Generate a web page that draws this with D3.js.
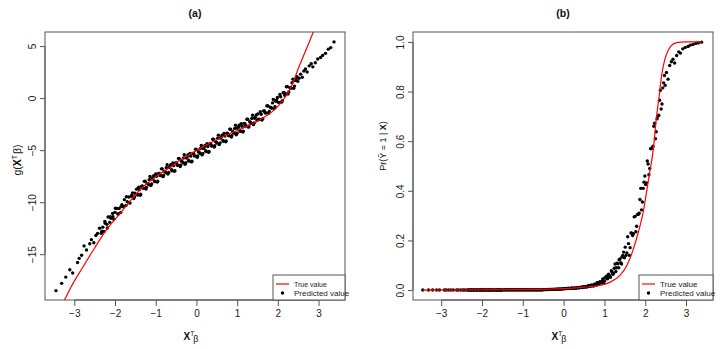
<!DOCTYPE html>
<html>
<head>
<meta charset="utf-8">
<script src="https://cdn.jsdelivr.net/npm/d3@7"></script>
<style>
  body { margin: 0; background: #fff; }
  svg { display: block; font-family: "Liberation Sans", Arial, sans-serif; }
</style>
</head>
<body>
<div id="chart"></div>
<script>
// x^T beta for each observation (shared by both panels), first batch
const xs = [
  -3.45, -3.31, -3.21, -3.11, -3.04, -2.92, -2.88, -2.82, -2.76, -2.70, -2.62, -2.58, -2.52, -2.47, -2.43,
  -2.38, -2.34, -2.30, -2.27, -2.24, -2.20, -2.17, -2.13, -2.10, -2.06, -2.03, -2.00, -1.96, -1.93, -1.90,
  -1.86, -1.83, -1.80, -1.77, -1.73, -1.70, -1.66, -1.63, -1.60, -1.57, -1.54, -1.51,
  -1.47, -1.44, -1.40, -1.37, -1.33, -1.30, -1.26, -1.23, -1.19, -1.16, -1.12, -1.09,
  -1.05, -1.02, -0.98, -0.95, -0.91, -0.88, -0.84, -0.81, -0.77, -0.74, -0.70, -0.67,
  -0.63, -0.60, -0.56, -0.53, -0.49, -0.46, -0.42, -0.39, -0.35, -0.32, -0.28, -0.25,
  -0.21, -0.18, -0.14, -0.11, -0.07, -0.04, 0.00, 0.03, 0.07, 0.10, 0.14, 0.17,
  0.21, 0.24, 0.28, 0.31, 0.35, 0.38, 0.42, 0.45, 0.49, 0.52, 0.56, 0.59,
  0.63, 0.66, 0.70, 0.73, 0.77, 0.80, 0.84, 0.87, 0.91, 0.94, 0.98, 1.01,
  1.05, 1.08, 1.12, 1.15, 1.19, 1.22, 1.26, 1.29, 1.33, 1.36, 1.40, 1.43, 1.47,
  1.51, 1.55, 1.59, 1.63, 1.67, 1.71, 1.75, 1.79, 1.83, 1.87, 1.91, 1.95, 1.99,
  2.03, 2.07, 2.11, 2.15, 2.19, 2.23, 2.27, 2.31, 2.35, 2.39, 2.43, 2.47,
  2.52, 2.56, 2.60, 2.64, 2.68, 2.72, 2.77, 2.82, 2.86, 2.92, 2.98, 3.05, 3.10, 3.17, 3.24, 3.30, 3.38
];

// panel (a): predicted g(x^T beta)
const gPred = [
  -18.5, -17.8, -17.2, -16.5, -16.8, -15.8, -15.4, -15.1, -14.2, -14.6, -14.0, -13.6, -13.9, -13.2, -13.0,
  -12.51, -12.98, -12.4, -12.81, -12.02, -12.13, -11.43, -11.94, -11.55, -11.08, -11.65, -10.98, -10.61, -11.13, -10.6,
  -11.0, -10.24, -10.43, -9.76, -10.31, -9.95, -9.5, -10.09, -9.43, -9.11, -9.65, -9.14,
  -8.75, -9.31, -8.78, -9.23, -8.45, -8.65, -7.98, -8.59, -8.22, -7.83, -8.41, -7.77,
  -7.46, -8.03, -7.52, -7.99, -7.23, -7.45, -6.8, -7.43, -7.08, -6.7, -7.3, -6.68,
  -6.39, -6.98, -6.49, -6.97, -6.23, -6.46, -5.82, -6.45, -6.11, -5.75, -6.36, -5.75,
  -5.47, -6.06, -5.58, -6.07, -5.33, -5.57, -4.93, -5.56, -5.22, -4.85, -5.46, -4.84,
  -4.55, -5.14, -4.65, -5.13, -4.38, -4.6, -3.95, -4.58, -4.23, -3.86, -4.47, -3.85,
  -3.56, -4.14, -3.65, -4.13, -3.39, -3.63, -2.99, -3.62, -3.28, -2.91, -3.52, -2.9,
  -2.61, -3.2, -2.71, -3.19, -2.45, -2.68, -2.04, -2.67, -2.33, -1.95, -2.55, -1.93, -1.63,
  -1.52, -2.06, -1.55, -1.99, -1.23, -1.42, -0.73, -1.29, -0.9, -0.46, -1.01, -0.3, 0.06,
  -0.43, 0.13, -0.26, 0.55, 0.41, 1.12, 0.58, 0.99, 1.47, 0.95, 1.68, 2.06,
  1.9, 2.3, 2.0, 2.6, 2.8, 2.5, 3.1, 3.3, 3.0, 3.4, 3.75, 3.9, 4.1, 4.3, 4.7, 4.85, 5.4
];

// panel (b): predicted Pr(Y~ = 1 | X)
const prPred = [
  0, 0, 0, 0, 0, 0, 0, 0, 0, 0, 0, 0, 0, 0, 0,
  0, 0, 0, 0, 0, 0, 0, 0, 0, 0, 0, 0, 0, 0, 0,
  0, 0, 0, 0, 0, 0, 0, 0, 0, 0, 0, 0,
  0.001, 0.001, 0.001, 0.001, 0.001, 0.001, 0.001, 0.001, 0.001, 0.001, 0.001, 0.001,
  0.001, 0.001, 0.001, 0.001, 0.001, 0.001, 0.001, 0.001, 0.001, 0.001, 0.001, 0.001,
  0.001, 0.001, 0.001, 0.001, 0.002, 0.002, 0.002, 0.002, 0.003, 0.003, 0.003, 0.003,
  0.003, 0.004, 0.004, 0.004, 0.004, 0.005, 0.006, 0.005, 0.006, 0.007, 0.006, 0.007,
  0.008, 0.007, 0.008, 0.007, 0.010, 0.009, 0.012, 0.010, 0.012, 0.014, 0.012, 0.015,
  0.018, 0.015, 0.019, 0.016, 0.023, 0.021, 0.030, 0.024, 0.029, 0.036, 0.028, 0.049,
  0.056, 0.048, 0.059, 0.053, 0.072, 0.068, 0.105, 0.090, 0.106, 0.122, 0.110, 0.133, 0.153,
  0.173, 0.150, 0.187, 0.171, 0.229, 0.227, 0.297, 0.257, 0.305, 0.365, 0.323, 0.410, 0.460,
  0.432, 0.508, 0.490, 0.570, 0.580, 0.672, 0.638, 0.700, 0.765, 0.730, 0.815, 0.865,
  0.877, 0.850, 0.905, 0.920, 0.930, 0.915, 0.945, 0.960, 0.955, 0.972, 0.978, 0.982, 0.987, 0.990, 0.994, 0.996, 0.999
];

// second batch of observations, in the dense middle of the cloud
const xs2 = [
  -2.32, -2.25, -2.19, -2.12, -2.05, -1.99, -1.92, -1.85, -1.79, -1.72, -1.65, -1.59, -1.52,
  -1.45, -1.42, -1.38, -1.35, -1.31, -1.28, -1.24, -1.21, -1.17, -1.14, -1.10, -1.07,
  -1.03, -1.00, -0.96, -0.93, -0.89, -0.86, -0.82, -0.79, -0.75, -0.72, -0.68, -0.65,
  -0.61, -0.58, -0.54, -0.51, -0.47, -0.44, -0.40, -0.37, -0.33, -0.30, -0.26, -0.23,
  -0.19, -0.16, -0.12, -0.09, -0.05, -0.02, 0.02, 0.05, 0.09, 0.12, 0.16, 0.19,
  0.23, 0.26, 0.30, 0.33, 0.37, 0.40, 0.44, 0.47, 0.51, 0.54, 0.58, 0.61,
  0.65, 0.68, 0.72, 0.75, 0.79, 0.82, 0.86, 0.89, 0.93, 0.96, 1.00, 1.03,
  1.07, 1.10, 1.14, 1.17, 1.21, 1.24, 1.28, 1.31, 1.35, 1.38, 1.42, 1.45, 1.49,
  1.53, 1.57, 1.61, 1.65, 1.69, 1.73, 1.77, 1.81, 1.85, 1.89, 1.93, 1.97, 2.01,
  2.05, 2.09, 2.13, 2.17, 2.21, 2.25, 2.29, 2.33, 2.37, 2.41, 2.45, 2.49
];

const gPred2 = [
  -12.79, -11.86, -12.48, -11.4, -11.39, -10.58, -11.14, -10.41, -10.44, -9.48, -10.06, -9.34, -9.48,
  -9.25, -8.56, -9.33, -8.48, -8.65, -8.0, -8.73, -8.19, -8.32, -7.53, -8.26, -7.67,
  -7.96, -7.28, -8.07, -7.24, -7.43, -6.8, -7.55, -7.03, -7.18, -6.4, -7.15, -6.58,
  -6.89, -6.23, -7.04, -6.22, -6.43, -5.81, -6.57, -6.05, -6.21, -5.45, -6.21, -5.65,
  -5.97, -5.31, -6.13, -5.32, -5.53, -4.92, -5.68, -5.16, -5.32, -4.55, -5.31, -4.74,
  -5.05, -4.39, -5.2, -4.38, -4.58, -3.95, -4.7, -4.18, -4.33, -3.56, -4.32, -3.75,
  -4.06, -3.39, -4.2, -3.38, -3.59, -2.98, -3.74, -3.22, -3.38, -2.61, -3.37, -2.8,
  -3.11, -2.45, -3.26, -2.44, -2.65, -2.03, -2.79, -2.27, -2.43, -1.65, -2.4, -1.83, -2.13,
  -2.02, -1.31, -2.1, -1.24, -1.43, -0.75, -1.46, -0.87, -0.98, -0.14, -0.83, -0.17, -0.41,
  0.35, -0.39, 0.52, 0.28, 1.09, 0.4, 1.01, 0.94, 1.82, 1.15, 1.83, 1.61
];

const prPred2 = [
  0, 0, 0, 0, 0, 0, 0, 0, 0, 0, 0, 0, 0,
  0.001, 0.001, 0.001, 0.001, 0.001, 0.001, 0.001, 0.001, 0.001, 0.001, 0.001, 0.001,
  0.001, 0.001, 0.001, 0.001, 0.001, 0.001, 0.001, 0.001, 0.001, 0.001, 0.001, 0.001,
  0.001, 0.001, 0.001, 0.001, 0.002, 0.002, 0.003, 0.002, 0.003, 0.003, 0.003, 0.004,
  0.003, 0.004, 0.004, 0.005, 0.004, 0.005, 0.006, 0.007, 0.006, 0.008, 0.007, 0.009,
  0.007, 0.009, 0.008, 0.011, 0.009, 0.011, 0.010, 0.014, 0.011, 0.015, 0.013, 0.019,
  0.015, 0.021, 0.017, 0.024, 0.020, 0.030, 0.024, 0.034, 0.030, 0.045, 0.036, 0.050,
  0.045, 0.064, 0.052, 0.078, 0.064, 0.088, 0.075, 0.108, 0.090, 0.125, 0.105, 0.140, 0.130,
  0.140, 0.215, 0.140, 0.230, 0.220, 0.295, 0.235, 0.305, 0.310, 0.410, 0.355, 0.435, 0.425,
  0.520, 0.465, 0.570, 0.575, 0.660, 0.610, 0.690, 0.705, 0.805, 0.750, 0.835, 0.825
];

// true curves
const trueGX = [-3.3, -3.06, -2.8, -2.5, -2.2, -1.9, -1.6, -1.3, -1.0, -0.7, -0.4, -0.1, 0.2, 0.5, 0.8, 1.1, 1.4, 1.6, 1.85, 2.09, 2.26, 2.38, 2.5, 2.67, 2.87, 2.95];
const trueGY = [-19.9, -18.0, -16.3, -14.4, -12.6, -11.2, -9.75, -8.5, -7.55, -6.8, -5.95, -5.28, -4.6, -4.0, -3.45, -2.95, -2.45, -1.99, -1.35, -0.38, 0.58, 1.54, 2.82, 4.42, 6.35, 7.2];

const truePrX = [-3.45, -2.0, -1.0, 0.0, 0.5, 0.89, 1.14, 1.38, 1.55, 1.71, 1.83, 1.95, 2.03, 2.11, 2.2, 2.27, 2.34, 2.4, 2.48, 2.56, 2.64, 2.77, 3.0, 3.38];
const truePrY = [0.0, 0.0005, 0.002, 0.006, 0.012, 0.019, 0.032, 0.059, 0.099, 0.166, 0.233, 0.314, 0.394, 0.475, 0.57, 0.69, 0.78, 0.864, 0.93, 0.965, 0.985, 0.997, 1.0, 1.0];

const xTicks = [-3, -2, -1, 0, 1, 2, 3];
const gTicks = [-15, -10, -5, 0, 5];
const prTicks = [0, 0.2, 0.4, 0.6, 0.8, 1.0];

const width = 722, height = 349;
const svg = d3.select('#chart').append('svg')
    .attr('width', width)
    .attr('height', height);

const boxColor = '#555';
const textColor = '#222';
const tickFont = '10px';

function drawPanel(opts) {
    const { id, left, right, top, bottom, xDomain, yDomain, yValues, yValues2, yTicks, yFmt,
            trueX, trueY, title, legendX, legendW, trueSize } = opts;
    const x = d3.scaleLinear().domain(xDomain).range([left, right]);
    const y = d3.scaleLinear().domain(yDomain).range([bottom, top]);

    svg.append('clipPath').attr('id', 'clip-' + id)
        .append('rect')
        .attr('x', left).attr('y', top)
        .attr('width', right - left).attr('height', bottom - top);

    // x axis
    const xAxis = d3.axisBottom(x).tickValues(xTicks).tickSize(6).tickPadding(4)
        .tickFormat(d3.format('d'));
    const gx = svg.append('g')
        .attr('transform', `translate(0,${bottom})`)
        .call(xAxis);
    gx.select('.domain').attr('stroke', boxColor)
        .attr('d', `M${x(xTicks[0])},0H${x(xTicks[xTicks.length - 1])}`);
    gx.selectAll('.tick line').attr('stroke', boxColor);
    gx.selectAll('.tick text').attr('fill', textColor)
        .style('font-size', tickFont).style('font-family', '"Liberation Sans", Arial, sans-serif');

    // y axis (labels parallel to the axis, like R)
    const yAxis = d3.axisLeft(y).tickValues(yTicks).tickSize(5).tickFormat(yFmt);
    const gy = svg.append('g')
        .attr('transform', `translate(${left},0)`)
        .call(yAxis);
    gy.select('.domain').attr('stroke', boxColor)
        .attr('d', `M0,${y(yTicks[0])}V${y(yTicks[yTicks.length - 1])}`);
    gy.selectAll('.tick line').attr('stroke', boxColor);
    gy.selectAll('.tick text')
        .attr('fill', textColor)
        .attr('x', null).attr('dy', null)
        .attr('transform', 'translate(-13,0) rotate(-90)')
        .attr('text-anchor', 'middle')
        .attr('dominant-baseline', 'central')
        .style('font-size', tickFont).style('font-family', '"Liberation Sans", Arial, sans-serif');

    // points
    const pts = xs.map((d, i) => [d, yValues[i]])
        .concat(xs2.map((d, i) => [d, yValues2[i]]));
    svg.append('g')
        .attr('clip-path', `url(#clip-${id})`)
        .selectAll('circle')
        .data(pts)
        .join('circle')
        .attr('cx', d => x(d[0]))
        .attr('cy', d => y(d[1]))
        .attr('r', 1.7)
        .attr('fill', '#000');

    // true curve
    const line = d3.line()
        .x(d => x(d[0]))
        .y(d => y(d[1]))
        .curve(d3.curveMonotoneX);
    svg.append('path')
        .attr('clip-path', `url(#clip-${id})`)
        .datum(trueX.map((d, i) => [d, trueY[i]]))
        .attr('d', line)
        .attr('fill', 'none')
        .attr('stroke', '#ff0000')
        .attr('stroke-width', 1.2);

    // box
    svg.append('rect')
        .attr('x', left).attr('y', top)
        .attr('width', right - left).attr('height', bottom - top)
        .attr('fill', 'none')
        .attr('stroke', boxColor)
        .attr('stroke-width', 1);

    // title
    const cx = (left + right) / 2;
    svg.append('text')
        .attr('x', cx).attr('y', 17)
        .attr('text-anchor', 'middle')
        .style('font-size', '10.5px')
        .style('font-weight', 'bold')
        .attr('fill', '#111')
        .text(title);

    // x label: X^T beta
    const xl = svg.append('text')
        .attr('x', cx - 4).attr('y', 340)
        .attr('text-anchor', 'middle')
        .attr('fill', '#111')
        .style('font-size', '10px');
    xl.append('tspan').style('font-weight', 'bold').text('X');
    xl.append('tspan').attr('dy', -4).style('font-size', '6.5px').text('T');
    xl.append('tspan').attr('dy', 6).attr('dx', -1).style('font-size', '9px').text('β');

    // legend
    const lg = svg.append('g');
    lg.append('rect')
        .attr('x', legendX).attr('y', 275)
        .attr('width', legendW).attr('height', bottom - 275)
        .attr('fill', '#fff')
        .attr('stroke', boxColor);
    lg.append('line')
        .attr('x1', legendX + 3).attr('x2', legendX + 16)
        .attr('y1', 284).attr('y2', 284)
        .attr('stroke', '#ff0000').attr('stroke-width', 1.2);
    lg.append('text')
        .attr('x', legendX + 21).attr('y', 286.5)
        .attr('fill', textColor)
        .style('font-size', trueSize + 'px')
        .text('True value');
    lg.append('circle')
        .attr('cx', legendX + 9.5).attr('cy', 293)
        .attr('r', 1.7).attr('fill', '#000');
    lg.append('text')
        .attr('x', legendX + 21).attr('y', 296)
        .attr('fill', textColor)
        .style('font-size', '8px')
        .text('Predicted value');

    return { x, y };
}

drawPanel({
    id: 'a', left: 45, right: 345, top: 32, bottom: 300,
    xDomain: [-3.72, 3.65], yDomain: [-19.4, 6.35],
    yValues: gPred, yValues2: gPred2, yTicks: gTicks, yFmt: d3.format('d'),
    trueX: trueGX, trueY: trueGY, title: '(a)',
    legendX: 273, legendW: 72, trueSize: 7
});

drawPanel({
    id: 'b', left: 413, right: 713, top: 32, bottom: 300,
    xDomain: [-3.69, 3.66], yDomain: [-0.04, 1.04],
    yValues: prPred, yValues2: prPred2, yTicks: prTicks, yFmt: d3.format('.1f'),
    trueX: truePrX, trueY: truePrY, title: '(b)',
    legendX: 639, legendW: 74, trueSize: 8
});

// y labels
const yla = svg.append('text')
    .attr('transform', 'translate(21,160) rotate(-90)')
    .attr('text-anchor', 'middle')
    .attr('fill', '#111')
    .style('font-size', '10.5px');
yla.append('tspan').text('g(');
yla.append('tspan').style('font-weight', 'bold').text('X');
yla.append('tspan').attr('dy', -4).style('font-size', '7px').text('T');
yla.append('tspan').attr('dy', 4).attr('dx', 1).text('β)');

const ylb = svg.append('text')
    .attr('transform', 'translate(386,146) rotate(-90)')
    .attr('text-anchor', 'middle')
    .attr('fill', '#111')
    .style('font-size', '9px');
ylb.append('tspan').text('Pr(Ỹ = 1 | ');
ylb.append('tspan').style('font-weight', 'bold').text('X');
ylb.append('tspan').text(')');
</script>
</body>
</html>
